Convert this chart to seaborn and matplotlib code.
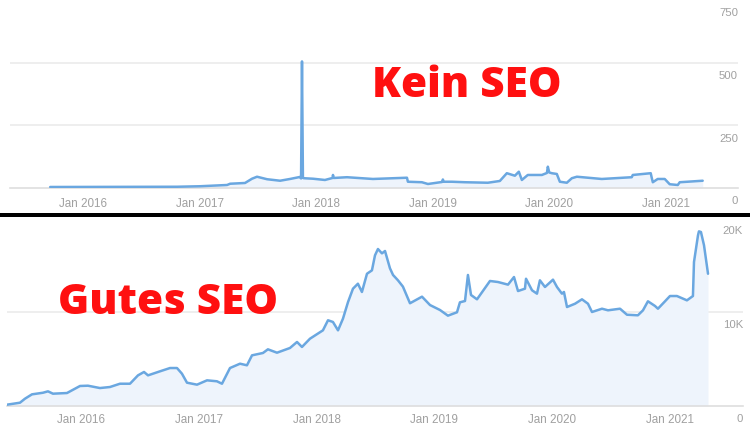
import matplotlib
matplotlib.use("Agg")
import matplotlib.pyplot as plt
import matplotlib.transforms as mtransforms
from matplotlib.patches import Rectangle
import seaborn as sns
import pandas as pd

# ---------------- data (decimal years, values) ----------------
kein_t = [2015.717, 2016.806, 2017.003, 2017.235, 2017.261, 2017.389, 2017.449, 2017.492,
          2017.578, 2017.690, 2017.775, 2017.860, 2017.870, 2017.878, 2017.886, 2017.895,
          2017.973, 2018.075, 2018.140, 2018.144, 2018.150, 2018.264, 2018.487, 2018.779,
          2018.787, 2018.907, 2018.959, 2019.080, 2019.087, 2019.095, 2019.165, 2019.276,
          2019.473, 2019.576, 2019.636, 2019.705, 2019.739, 2019.765, 2019.816, 2019.937,
          2019.980, 2019.988, 2020.000, 2020.022, 2020.065, 2020.091, 2020.151, 2020.194,
          2020.237, 2020.451, 2020.708, 2020.717, 2020.871, 2020.880, 2020.889, 2020.931,
          2020.991, 2021.034, 2021.103, 2021.120, 2021.317]
kein_v = [4, 5, 7, 12, 17, 20, 37, 45,
          35, 29, 36, 44, 38, 505, 40, 39,
          37, 32, 40, 52, 40, 43, 36, 41,
          25, 23, 16, 24, 34, 25, 25, 23,
          21, 28, 59, 49, 65, 32, 52, 52,
          60, 85, 62, 59, 56, 25, 21, 39,
          45, 36, 43, 52, 59, 40, 23, 36,
          36, 15, 12, 23, 29]

gut_t = [2015.372, 2015.482, 2015.525, 2015.584, 2015.677, 2015.720, 2015.762, 2015.881,
         2015.992, 2016.059, 2016.161, 2016.246, 2016.331, 2016.416, 2016.484, 2016.535,
         2016.569, 2016.671, 2016.756, 2016.815, 2016.857, 2016.900, 2016.985, 2017.070,
         2017.154, 2017.197, 2017.265, 2017.350, 2017.409, 2017.452, 2017.545, 2017.587,
         2017.664, 2017.774, 2017.834, 2017.876, 2017.944, 2018.054, 2018.097, 2018.139,
         2018.182, 2018.224, 2018.267, 2018.309, 2018.351, 2018.385, 2018.428, 2018.470,
         2018.496, 2018.521, 2018.555, 2018.581, 2018.623, 2018.649, 2018.691, 2018.733,
         2018.793, 2018.895, 2018.963, 2019.048, 2019.115, 2019.192, 2019.217, 2019.260,
         2019.285, 2019.311, 2019.362, 2019.472, 2019.540, 2019.625, 2019.676, 2019.710,
         2019.769, 2019.778, 2019.829, 2019.871, 2019.896, 2019.939, 2020.007, 2020.041,
         2020.083, 2020.100, 2020.126, 2020.194, 2020.253, 2020.304, 2020.338, 2020.423,
         2020.474, 2020.576, 2020.635, 2020.728, 2020.771, 2020.813, 2020.873, 2020.898,
         2020.958, 2021.000, 2021.059, 2021.144, 2021.195, 2021.204, 2021.238, 2021.246,
         2021.263, 2021.289, 2021.323]
gut_v = [140, 350, 780, 1240, 1410, 1560, 1310, 1380,
         2130, 2160, 1910, 2020, 2370, 2370, 3260, 3620,
         3260, 3690, 4040, 4040, 3440, 2480, 2270, 2730,
         2630, 2370, 4040, 4500, 4330, 5390, 5640, 6030,
         5670, 6170, 6810, 6280, 7160, 8050, 9120, 8940,
         8050, 9290, 11060, 12480, 13010, 12130, 14070, 14430,
         16030, 16700, 16240, 16490, 14650, 13940, 13370, 12700,
         10930, 11630, 10740, 10210, 9610, 9970, 11030, 11170,
         13940, 11810, 11350, 13300, 13190, 12910, 13720, 12230,
         12480, 13540, 12310, 11950, 13370, 12660, 13440, 12660,
         11950, 12130, 10530, 10880, 11350, 10880, 10000, 10350,
         10180, 10350, 9710, 9650, 10180, 11140, 10640, 10350,
         11140, 11700, 11700, 11240, 11700, 15320, 18160, 18580,
         18510, 17100, 14070]

years = [2016, 2017, 2018, 2019, 2020, 2021]
xlabels = ["Jan 2016", "Jan 2017", "Jan 2018", "Jan 2019", "Jan 2020", "Jan 2021"]
kein_yticks = [0, 250, 500, 750]
kein_ylabels = ["0", "250", "500", "750"]
gut_yticks = [0, 10000, 20000]
gut_ylabels = ["0", "10K", "20K"]

# ---------------- style ----------------
sns.set_theme(style="white")
plt.rcParams["font.family"] = ["Liberation Sans", "DejaVu Sans"]

LINE = "#6aa7e0"
FILL = "#eef4fc"
GRID = "#ededed"
TXT = "#a0a0a0"
RED = "#ff1010"

fig = plt.figure(figsize=(7.5, 4.25), dpi=100)
W, H = 750, 425
XMIN, XMAX = 2015.372, 2021.620

ax1 = fig.add_axes([10 / W, 1 - 188 / H, 728 / W, 188 / H])
ax2 = fig.add_axes([7 / W, 1 - 406 / H, 736 / W, 188 / H])


def style(ax, t, v, ymax, yticks, ylabels, pad, ylab_off):
    df = pd.DataFrame({"t": t, "v": v})
    ax.fill_between(df["t"], 0, df["v"], color=FILL, lw=0, zorder=1)
    sns.lineplot(data=df, x="t", y="v", ax=ax, color=LINE, lw=1.8, zorder=3)
    ax.set_xlim(XMIN, XMAX)
    ax.set_ylim(0, ymax)
    ax.set_xlabel("")
    ax.set_ylabel("")
    for s in ["top", "right", "left"]:
        ax.spines[s].set_visible(False)
    ax.spines["bottom"].set_color("#dedede")
    ax.spines["bottom"].set_linewidth(1.2)
    ax.set_yticks([])
    for yv in yticks[1:-1]:
        ax.axhline(yv, color=GRID, lw=1.3, zorder=0)
    ax.set_xticks(years)
    ax.set_xticklabels(xlabels)
    ax.tick_params(axis="x", direction="in", length=4.5, width=1, color="#dedede",
                   labelsize=8.4, labelcolor=TXT, pad=pad)
    trans = mtransforms.blended_transform_factory(ax.transAxes, ax.transData)
    off = mtransforms.ScaledTranslation(0, -ylab_off / 100, fig.dpi_scale_trans)
    for yv, lab in zip(yticks, ylabels):
        ax.text(1.0, yv, lab, transform=trans + off, ha="right", va="center",
                fontsize=8.2, color=TXT)


style(ax1, kein_t, kein_v, 750, kein_yticks, kein_ylabels, 7.5, 13.5)
style(ax2, gut_t, gut_v, 20000, gut_yticks, gut_ylabels, 5.5, 12.5)

# titles
fig.text(372 / W, 1 - 97 / H, "Kein SEO", fontsize=30.4, fontweight="heavy",
         color=RED, family=["Open Sans", "DejaVu Sans"], ha="left", va="baseline")
fig.text(58 / W, 1 - 314 / H, "Gutes SEO", fontsize=30.4, fontweight="heavy",
         color=RED, family=["Open Sans", "DejaVu Sans"], ha="left", va="baseline")

# divider
fig.add_artist(Rectangle((0, 1 - 217.5 / H), 1, 5 / H, transform=fig.transFigure,
                         color="black", lw=0, zorder=10))

fig.savefig("out.png", dpi=100)
